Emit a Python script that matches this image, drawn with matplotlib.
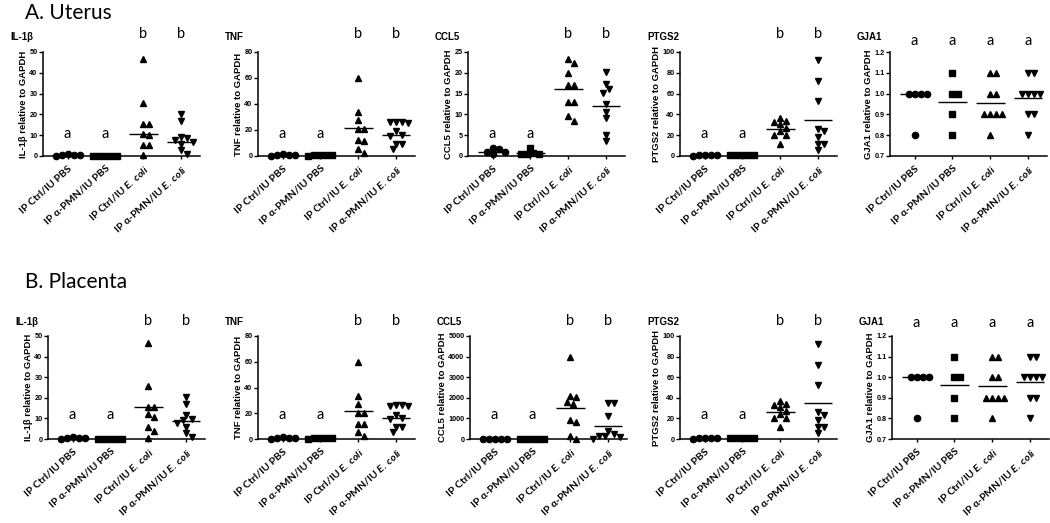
import matplotlib
matplotlib.use("Agg")
import matplotlib.pyplot as plt
import numpy as np
from matplotlib import transforms

plt.rcParams['mathtext.fontset'] = 'custom'
plt.rcParams['mathtext.it'] = 'Lato:italic:bold'
plt.rcParams['mathtext.rm'] = 'Lato:bold'
plt.rcParams['mathtext.bf'] = 'Lato:bold'

# ---------------- data ----------------
groups = ["IP Ctrl/IU PBS", "IP α-PMN/IU PBS",
          r"IP Ctrl/IU $\mathit{E.\ coli}$", r"IP α-PMN/IU $\mathit{E.\ coli}$"]
genes = ["IL-1β", "TNF", "CCL5", "PTGS2", "GJA1"]
markers = ["o", "s", "^", "v"]

uterus_il1b = [[0.9, 0.6, 0.4, 0.2, 0.5],
               [0.1, 0.2, 0.1, 0.05, 0.15],
               [46.8, 25.5, 15.2, 15.2, 10.4, 10.0, 5.5, 5.5, 0.5],
               [20.4, 17.0, 9.0, 8.5, 7.5, 6.8, 6.0, 3.0, 1.0]]
uterus_il1b_lines = [0.4, 0.1, 10.6, 6.8]

uterus_tnf = [[1.2, 0.8, 0.5, 0.3, 0.9],
              [0.6, 0.4, 0.5, 0.3, 0.7],
              [60.0, 33.5, 27.5, 20.5, 20.5, 12.0, 11.5, 5.5, 2.0],
              [26.5, 26.5, 26.0, 25.5, 19.0, 16.0, 15.5, 9.5, 9.0, 5.5]]
uterus_tnf_lines = [0.7, 0.5, 21.8, 16.4]

uterus_ccl5 = [[1.9, 1.8, 1.0, 0.5, 0.9],
               [1.9, 0.5, 0.4, 0.6, 0.7],
               [23.2, 22.3, 20.0, 17.1, 17.0, 13.0, 13.0, 9.5, 8.4],
               [20.2, 17.4, 16.2, 15.1, 12.4, 10.6, 9.2, 5.1, 3.5]]
uterus_ccl5_lines = [1.0, 0.8, 16.0, 12.1]

uterus_ptgs2 = [[1.0, 0.6, 0.3, 0.5, 0.8],
                [1.2, 0.8, 0.5, 0.9, 0.7],
                [37.0, 34.0, 33.0, 31.0, 27.0, 24.0, 20.0, 20.0, 12.0],
                [92.6, 71.8, 52.9, 26.3, 23.7, 18.3, 11.2, 11.2, 5.4]]
uterus_ptgs2_lines = [0.6, 0.8, 25.8, 35.0]

uterus_gja1 = [[1.0, 1.0, 1.0, 1.0, 0.8],
               [1.1, 1.0, 1.0, 0.9, 0.8],
               [1.1, 1.1, 1.0, 1.0, 0.9, 0.9, 0.9, 0.9, 0.8],
               [1.1, 1.1, 1.0, 1.0, 1.0, 1.0, 0.9, 0.9, 0.8]]
uterus_gja1_lines = [1.0, 0.96, 0.955, 0.978]

placenta_il1b = [[0.9, 0.6, 0.4, 0.2, 0.5],
                 [0.1, 0.2, 0.1, 0.05, 0.15],
                 [46.8, 25.5, 15.3, 15.3, 12.3, 10.8, 5.8, 3.7, 0.5],
                 [20.3, 17.0, 11.5, 9.5, 9.0, 8.0, 6.0, 3.0, 1.0]]
placenta_il1b_lines = [0.4, 0.1, 15.3, 8.6]

placenta_tnf = [[1.2, 0.8, 0.5, 0.3, 0.9],
                [0.6, 0.4, 0.5, 0.3, 0.7],
                [60.0, 33.5, 27.5, 20.5, 20.5, 12.0, 11.5, 5.5, 2.0],
                [26.5, 26.5, 26.0, 25.5, 19.0, 16.0, 15.5, 9.5, 9.0, 5.5]]
placenta_tnf_lines = [0.7, 0.5, 21.5, 16.4]

placenta_ccl5 = [[20, 10, 5, 15, 8],
                 [10, 5, 12, 8, 6],
                 [4000, 2100, 2030, 1710, 1820, 935, 820, 160, 0],
                 [1750, 1750, 1120, 400, 250, 150, 130, 80, 20]]
placenta_ccl5_lines = [12, 8, 1516, 620]

placenta_ptgs2 = [[1.0, 0.6, 0.3, 0.5, 0.8],
                  [1.2, 0.8, 0.5, 0.9, 0.7],
                  [37.0, 34.0, 33.0, 31.0, 27.0, 24.0, 20.0, 20.0, 12.0],
                  [92.6, 71.8, 52.9, 26.3, 23.7, 18.3, 11.2, 11.2, 5.4]]
placenta_ptgs2_lines = [0.6, 0.8, 25.8, 34.8]

placenta_gja1 = [[1.0, 1.0, 1.0, 1.0, 0.8],
                 [1.1, 1.0, 1.0, 0.9, 0.8],
                 [1.1, 1.1, 1.0, 1.0, 0.9, 0.9, 0.9, 0.9, 0.8],
                 [1.1, 1.1, 1.0, 1.0, 1.0, 1.0, 0.9, 0.9, 0.8]]
placenta_gja1_lines = [1.0, 0.96, 0.955, 0.978]

letters_main = ["a", "a", "b", "b"]
letters_gja1 = ["a", "a", "a", "a"]

ylims_uterus = [(0, 50, 10), (0, 80, 20), (0, 25, 5), (0, 100, 20), (0.7, 1.2, 0.1)]
ylims_placenta = [(0, 50, 10), (0, 80, 20), (0, 5000, 1000), (0, 100, 20), (0.7, 1.2, 0.1)]

# ---------------- layout ----------------
W, H = 1050, 523
fig = plt.figure(figsize=(W / 100, H / 100), dpi=100)

rows = [
    dict(title="A. Uterus", title_y=19,
         data=[uterus_il1b, uterus_tnf, uterus_ccl5, uterus_ptgs2, uterus_gja1],
         lines=[uterus_il1b_lines, uterus_tnf_lines, uterus_ccl5_lines,
                uterus_ptgs2_lines, uterus_gja1_lines],
         ylims=ylims_uterus, top=52, bottom=156,
         lefts=[43, 258, 468, 680, 890], b_y=1.135, a_low=0.17, a_top=1.07),
    dict(title="B. Placenta", title_y=288,
         data=[placenta_il1b, placenta_tnf, placenta_ccl5, placenta_ptgs2, placenta_gja1],
         lines=[placenta_il1b_lines, placenta_tnf_lines, placenta_ccl5_lines,
                placenta_ptgs2_lines, placenta_gja1_lines],
         ylims=ylims_placenta, top=336, bottom=439,
         lefts=[48, 258, 470, 680, 892], b_y=1.11, a_low=0.19, a_top=1.09),
]
AX_W = 157
XLIM = (-0.65, 3.5)

LATO = ["Lato", "DejaVu Sans"]
ARIAL = ["Liberation Sans", "DejaVu Sans"]


def swarm_offsets(vals, px_per_y, px_per_x, dmin=5.8, step_px=3.0):
    """Greedy beeswarm: place points (sorted by value) at the smallest
    horizontal offset that does not overlap already placed ones."""
    vals = np.asarray(vals, float)
    order = np.argsort(-vals)
    placed = []
    offs = np.zeros(len(vals))
    cands = [0]
    for k in range(1, 30):
        cands += [k, -k]
    for i in order:
        ypx = vals[i] * px_per_y
        for c in cands:
            xpx = c * step_px
            if all((xpx - px) ** 2 + (ypx - py) ** 2 >= dmin ** 2 for px, py in placed):
                placed.append((xpx, ypx))
                offs[i] = xpx / px_per_x
                break
    return offs


for row in rows:
    fig.text(25 / W, 1 - row["title_y"] / H, row["title"], family=LATO,
             fontsize=15, va="baseline", ha="left")
    for p in range(5):
        left = row["lefts"][p] / W
        bottom = 1 - row["bottom"] / H
        hpx = row["bottom"] - row["top"]
        ax = fig.add_axes([left, bottom, AX_W / W, hpx / H])
        y0, y1, step = row["ylims"][p]
        yr = y1 - y0
        data = row["data"][p]
        for g in range(4):
            vals = np.asarray(data[g], float)
            offs = swarm_offsets(vals, hpx / yr, AX_W / (XLIM[1] - XLIM[0]))
            ax.plot(g + offs, vals, linestyle="none", marker=markers[g],
                    markersize=4.5, color="black", clip_on=False, zorder=3)
            ax.plot([g - 0.38, g + 0.38], [row["lines"][p][g]] * 2,
                    color="black", lw=1.0, zorder=2, solid_capstyle="butt")
        ax.set_xlim(*XLIM)
        ax.set_ylim(y0, y1)
        ticks = np.arange(y0, y1 + step / 2, step)
        ax.set_yticks(ticks)
        if p == 4:
            ax.set_yticklabels([f"{t:.1f}" for t in ticks])
        else:
            ax.set_yticklabels([f"{t:.0f}" for t in ticks])
        for lbl in ax.get_yticklabels():
            lbl.set_fontweight("bold")
            lbl.set_family(ARIAL)
            lbl.set_fontsize(5.2)
        ax.set_xticks(range(4))
        ax.set_xticklabels(groups, rotation=42, ha="right", va="top",
                           rotation_mode="anchor", family=LATO,
                           fontsize=7.5, fontweight="bold")
        ax.tick_params(axis="y", length=3, width=1, pad=1)
        ax.tick_params(axis="x", length=2.5, width=1, pad=3)
        for s in ["top", "right"]:
            ax.spines[s].set_visible(False)
        for s in ["left", "bottom"]:
            ax.spines[s].set_linewidth(1.1)
        gene = genes[p]
        ax.set_ylabel(f"{gene} relative to GAPDH", family=ARIAL,
                      fontweight="bold", fontsize=6.8, labelpad=1)
        ax.text(-0.21, 1.14, gene, transform=ax.transAxes, family=ARIAL,
                fontweight="bold", fontsize=7, ha="left", va="center")
        trans = transforms.blended_transform_factory(ax.transData, ax.transAxes)
        letters = letters_gja1 if p == 4 else letters_main
        for g, L in enumerate(letters):
            if p == 4:
                yy = row["a_top"]
            else:
                yy = row["b_y"] if L == "b" else row["a_low"]
            ax.text(g, yy, L, transform=trans, family=LATO, fontsize=10.5,
                    ha="center", va="baseline")

fig.savefig("out.png", dpi=100)
